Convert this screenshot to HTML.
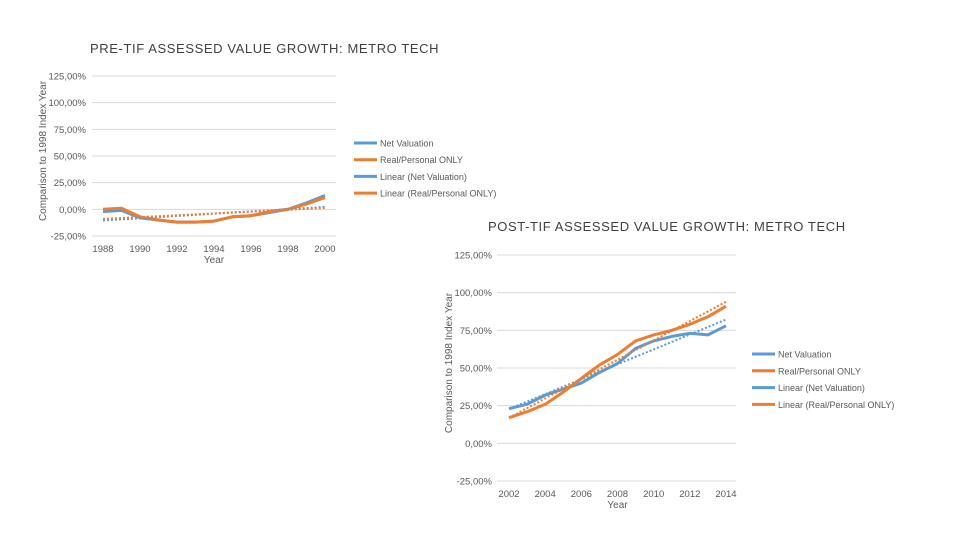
<!DOCTYPE html>
<html><head><meta charset="utf-8"><style>
body{margin:0;background:#fff;}
svg text{font-family:"Liberation Sans",sans-serif;fill:#595959;}
</style></head><body>
<svg id="s" width="960" height="540" xmlns="http://www.w3.org/2000/svg"></svg>
<script>
const years1=[1988,1989,1990,1991,1992,1993,1994,1995,1996,1997,1998,1999,2000];
const net1=[-2,-1,-8,-10,-12,-12,-11,-7,-6,-3,0,6,13];
const real1=[0,1,-7,-10,-12,-12,-11,-7,-6,-2,0,5,11];
const years2=[2002,2003,2004,2005,2006,2007,2008,2009,2010,2011,2012,2013,2014];
const net2=[23,26,32,36,40,47,53,63,68,71,73,72,78];
const real2=[17,21,26,34,43,52,59,68,72,75,79,84,91];
const ticks=[125,100,75,50,25,0,-25];
const tickLabels=["125,00%","100,00%","75,00%","50,00%","25,00%","0,00%","-25,00%"];
const xLabels1=[1988,1990,1992,1994,1996,1998,2000];
const xLabels2=[2002,2004,2006,2008,2010,2012,2014];
const legendNames=["Net Valuation","Real/Personal ONLY","Linear (Net Valuation)","Linear (Real/Personal ONLY)"];
const svg=document.getElementById('s');
const NS="http://www.w3.org/2000/svg";
function el(t,a,txt){const e=document.createElementNS(NS,t);for(const k in a)e.setAttribute(k,a[k]);if(txt!==undefined)e.textContent=txt;svg.appendChild(e);return e;}
function reg(xs,ys){const n=xs.length;let mx=0,my=0;xs.forEach((x,i)=>{mx+=x;my+=ys[i];});mx/=n;my/=n;let a=0,b=0;xs.forEach((x,i)=>{a+=(x-mx)*(ys[i]-my);b+=(x-mx)*(x-mx);});const m=a/b;return xs.map(x=>my+m*(x-mx));}
function chart(c){
 const X=v=>c.x0+(v-c.xmin)/(c.xmax-c.xmin)*(c.x1-c.x0);
 const Y=v=>c.y0+(125-v)/150*(c.y1-c.y0);
 let t=el('text',{x:c.tx,y:c.ty,'font-size':13,'letter-spacing':0.6,style:'fill:#404040'},c.title);
 
 ticks.forEach((v,i)=>{
  let g=el('line',{x1:c.gx0,x2:c.gx1,y1:Y(v),y2:Y(v),stroke:'#d9d9d9','stroke-width':1});
  
  let l=el('text',{x:c.lx,y:Y(v)+3.5,'font-size':9.5,'text-anchor':'end'},tickLabels[i]);
  
 });
 c.xl.forEach(v=>{let l=el('text',{x:X(v),y:c.y1+16,'font-size':9.5,'text-anchor':'middle'},v);
  });
 let xt=el('text',{x:(c.x0+c.x1)/2,y:c.y1+27,'font-size':10,'text-anchor':'middle'},'Year');
 
 let yc=(c.y0+c.y1)/2-5;
 let yt=el('text',{x:c.yax,y:yc,'font-size':10,'text-anchor':'middle',transform:`rotate(-90 ${c.yax} ${yc})`},'Comparison to 1998 Index Year');
 
 const series=[[c.net,'#5b9bd5',3,null,'net-valuation-line'],[c.real,'#ed7d31',3,null,'real-personal-line'],
  [reg(c.xs,c.net),'#5b9bd5',2,'2 2','linear-net-trendline'],[reg(c.xs,c.real),'#ed7d31',2,'2 2','linear-real-trendline']];
 series.forEach(s=>{const d=s[0].map((v,i)=>(i?'L':'M')+X(c.xs[i]).toFixed(1)+','+Y(v).toFixed(1)).join('');
  const a={d:d,fill:'none',stroke:s[1],'stroke-width':s[2],'stroke-linejoin':'round'};if(s[3])a['stroke-dasharray']=s[3];
  let p=el('path',a);});
 legendNames.forEach((n,i)=>{const y=c.legy+i*c.legdy;
  let ln=el('line',{x1:c.legx,x2:c.legx+23,y1:y,y2:y,stroke:i%2?'#ed7d31':'#5b9bd5','stroke-width':3});
  
  let lt=el('text',{x:c.legx+26,y:y+3.5,'font-size':9},n);
  });
}
chart({id:'pre-tif',title:'PRE-TIF ASSESSED VALUE GROWTH: METRO TECH',tx:90,ty:53,xs:years1,net:net1,real:real1,xl:xLabels1,
 xmin:1988,xmax:2000,x0:103,x1:325,y0:76,y1:236,gx0:92,gx1:336,lx:86,yax:46,legx:354,legy:143,legdy:16.7});
chart({id:'post-tif',title:'POST-TIF ASSESSED VALUE GROWTH: METRO TECH',tx:488,ty:231,xs:years2,net:net2,real:real2,xl:xLabels2,
 xmin:2002,xmax:2014,x0:509,x1:726,y0:255,y1:481,gx0:497,gx1:736,lx:492,yax:452,legx:752,legy:354,legdy:16.8});
</script>
</body></html>
